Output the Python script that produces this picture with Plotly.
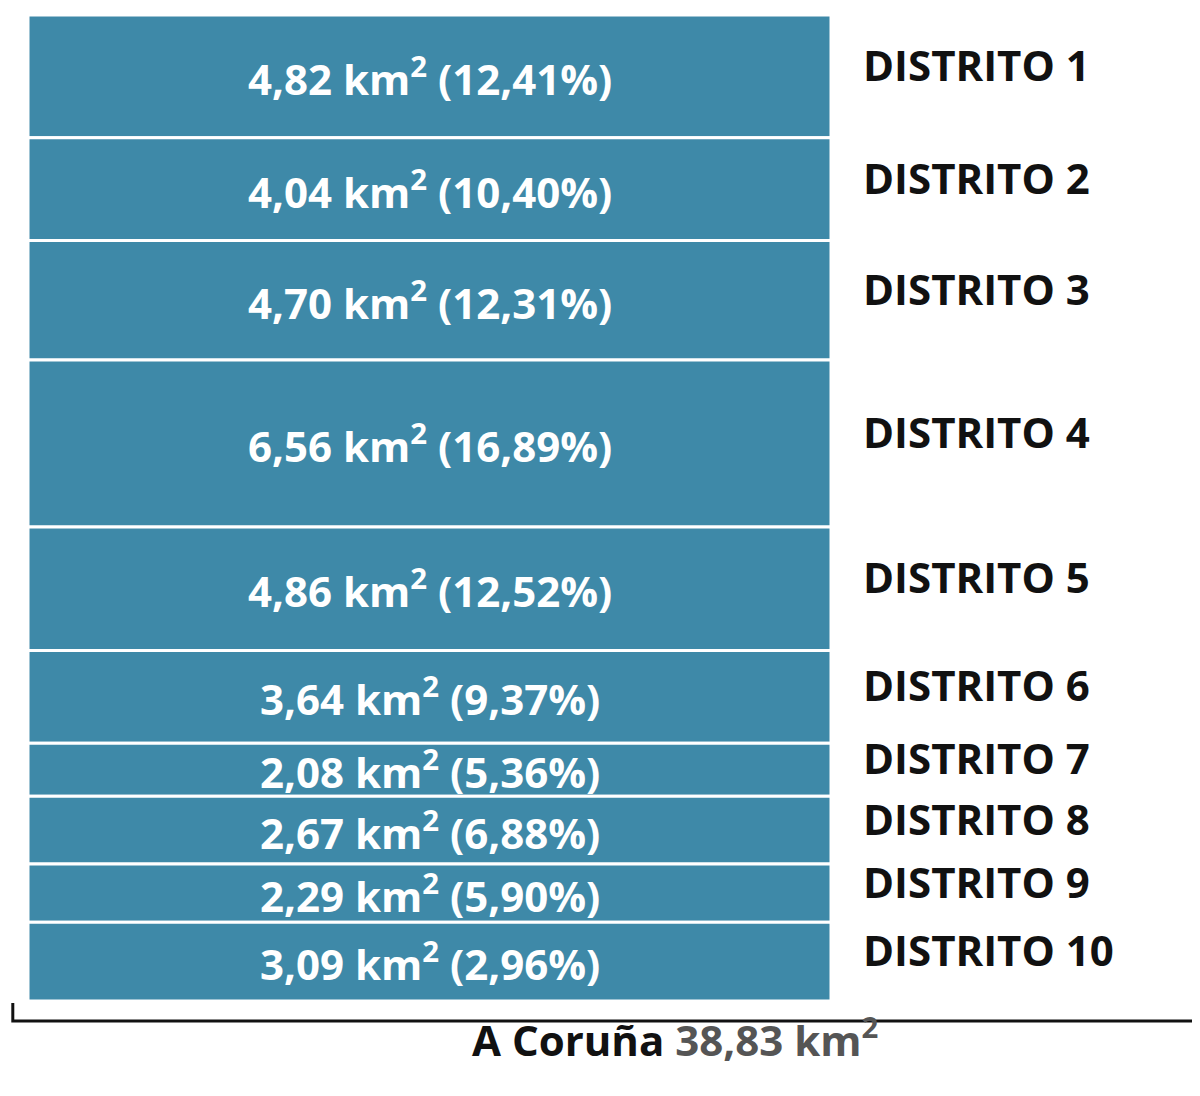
import numpy as np
import plotly.graph_objects as go

districts = ["DISTRITO 1", "DISTRITO 2", "DISTRITO 3", "DISTRITO 4", "DISTRITO 5",
             "DISTRITO 6", "DISTRITO 7", "DISTRITO 8", "DISTRITO 9", "DISTRITO 10"]
area_km2 = [4.82, 4.04, 4.70, 6.56, 4.86, 3.64, 2.08, 2.67, 2.29, 3.09]
area_labels = ["4,82", "4,04", "4,70", "6,56", "4,86", "3,64", "2,08", "2,67", "2,29", "3,09"]
pct_labels = ["12,41%", "10,40%", "12,31%", "16,89%", "12,52%",
              "9,37%", "5,36%", "6,88%", "5,90%", "2,96%"]
total_label = "38,83"

vals = np.array(area_km2)
base = np.concatenate([[0], np.cumsum(vals)[:-1]])
mid = base + vals / 2
total = vals.sum()

fig = go.Figure(go.Bar(
    x=[0] * len(vals), y=vals, base=base, width=1,
    marker=dict(color="#3E89A8", line=dict(color="white", width=3)),
    hoverinfo="skip",
))

font = "Open Sans"
for i in range(len(vals)):
    fig.add_annotation(x=0, y=mid[i], xref="x", yref="y",
                       text=f"<b>{area_labels[i]} km<sup>2</sup> ({pct_labels[i]})</b>",
                       showarrow=False, font=dict(family=font, size=42, color="white"))
    fig.add_annotation(x=853 / 1200, y=mid[i], xref="paper", yref="y", xanchor="left",
                       yshift=12, text=f"<b>{districts[i]}</b>", showarrow=False,
                       font=dict(family=font, size=42, color="#111"))

# bracket
fig.add_shape(type="path", xref="paper", yref="paper",
              path=f"M 0.004 {1-995/1096} L 0.004 {1-1013/1096} L 0.996 {1-1013/1096} L 0.996 {1-995/1096}",
              line=dict(color="#111", width=3))
fig.add_annotation(x=667 / 1200, y=1 - 1062 / 1096, xref="paper", yref="paper",
                   text=f"<b>A Coruña <span style='color:#555'>{total_label} km<sup>2</sup></span></b>",
                   showarrow=False, font=dict(family=font, size=42, color="#111"))

fig.update_layout(
    width=1200, height=1096, margin=dict(l=0, r=0, t=0, b=0),
    plot_bgcolor="white", paper_bgcolor="white", showlegend=False,
    xaxis=dict(domain=[20 / 1200, 823 / 1200], range=[-0.5, 0.5], visible=False),
    yaxis=dict(domain=[1 - 993 / 1096, 1 - 7 / 1096], range=[total, 0], visible=False),
)
fig.write_html("out.html")
